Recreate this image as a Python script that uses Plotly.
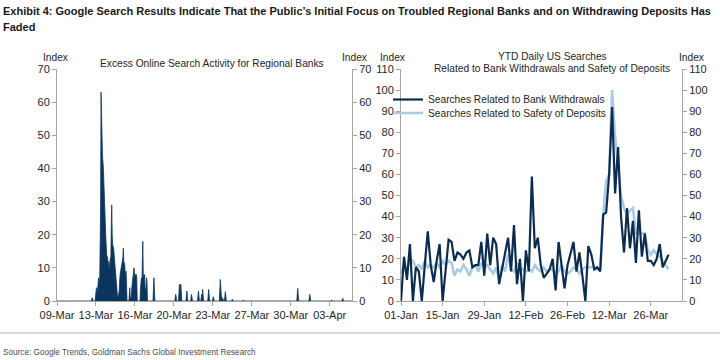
import plotly.graph_objects as go
import pandas as pd

# ---------------- Left panel: excess online search activity (hourly spikes) ----------------
excess_times = [
    "2023-03-09 12:00", "2023-03-12 14:00", "2023-03-12 16:00", "2023-03-12 18:00",
    "2023-03-12 22:00", "2023-03-13 00:00", "2023-03-13 01:00", "2023-03-13 02:00",
    "2023-03-13 03:00", "2023-03-13 05:00", "2023-03-13 06:00", "2023-03-13 08:00",
    "2023-03-13 10:00", "2023-03-13 11:00", "2023-03-13 12:00", "2023-03-13 14:00",
    "2023-03-13 16:00", "2023-03-13 17:00", "2023-03-13 19:00", "2023-03-13 21:00",
    "2023-03-13 23:00", "2023-03-14 01:00", "2023-03-14 03:00", "2023-03-14 04:00",
    "2023-03-14 06:00", "2023-03-14 07:00", "2023-03-14 08:00", "2023-03-14 09:00",
    "2023-03-14 10:00", "2023-03-14 11:00", "2023-03-14 12:00", "2023-03-14 14:00",
    "2023-03-14 15:00", "2023-03-14 17:00", "2023-03-14 18:00", "2023-03-14 20:00",
    "2023-03-14 22:00", "2023-03-15 00:00", "2023-03-15 02:00", "2023-03-15 04:00",
    "2023-03-15 06:00", "2023-03-15 08:00", "2023-03-15 10:00", "2023-03-15 11:00",
    "2023-03-15 12:00", "2023-03-15 14:00", "2023-03-15 15:00", "2023-03-15 17:00",
    "2023-03-15 18:00", "2023-03-15 19:00", "2023-03-15 23:00", "2023-03-16 00:00",
    "2023-03-16 01:00", "2023-03-16 02:00", "2023-03-16 04:00", "2023-03-16 06:00",
    "2023-03-16 08:00", "2023-03-16 10:00", "2023-03-16 12:00", "2023-03-16 13:00",
    "2023-03-16 15:00", "2023-03-16 16:00", "2023-03-16 17:00", "2023-03-16 23:00",
    "2023-03-17 00:00", "2023-03-17 02:00", "2023-03-17 03:00", "2023-03-17 05:00",
    "2023-03-17 06:00", "2023-03-17 08:00", "2023-03-17 09:00", "2023-03-17 10:00",
    "2023-03-17 12:00", "2023-03-17 13:00", "2023-03-17 14:00", "2023-03-17 15:00",
    "2023-03-18 03:00", "2023-03-18 05:00", "2023-03-18 07:00",
    "2023-03-20 02:00", "2023-03-20 04:00", "2023-03-20 06:00",
    "2023-03-20 10:00", "2023-03-20 12:00", "2023-03-20 13:00", "2023-03-20 14:00",
    "2023-03-20 15:00", "2023-03-20 17:00",
    "2023-03-21 02:00", "2023-03-21 04:00", "2023-03-21 06:00",
    "2023-03-21 12:00", "2023-03-21 14:00", "2023-03-21 16:00",
    "2023-03-22 03:00", "2023-03-22 05:00", "2023-03-22 07:00",
    "2023-03-22 10:00", "2023-03-22 12:00", "2023-03-22 13:00", "2023-03-22 14:00",
    "2023-03-22 16:00",
    "2023-03-23 01:00", "2023-03-23 03:00", "2023-03-23 05:00",
    "2023-03-23 11:00", "2023-03-23 13:00", "2023-03-23 15:00",
    "2023-03-24 02:00", "2023-03-24 04:00", "2023-03-24 06:00",
    "2023-03-24 07:00", "2023-03-24 09:00", "2023-03-24 11:00",
    "2023-03-24 13:00", "2023-03-24 15:00", "2023-03-24 17:00",
    "2023-03-25 04:00", "2023-03-25 06:00", "2023-03-25 08:00",
    "2023-03-26 04:00", "2023-03-26 06:00", "2023-03-26 08:00",
    "2023-03-31 01:00", "2023-03-31 03:00", "2023-03-31 05:00",
    "2023-04-01 03:00", "2023-04-01 05:00", "2023-04-01 07:00",
    "2023-04-03 02:00", "2023-04-03 04:00", "2023-04-03 06:00",
    "2023-04-04 02:00", "2023-04-04 04:00", "2023-04-04 06:00",
    "2023-04-05 00:00",
]
excess_values = [
    0, 0, 1, 0,
    0, 2, 4, 3,
    2, 6, 7, 5,
    28, 63, 50, 44,
    40, 34, 28, 20,
    14, 13, 10, 12,
    9, 13, 12, 22,
    29, 20, 17, 16,
    14, 10, 7, 3,
    2, 1, 3, 8,
    10, 11, 13, 16,
    12, 11, 8, 9,
    2, 0, 0, 3,
    4, 1, 1, 5,
    7, 10, 7, 8,
    8, 7, 0, 0,
    4, 7, 5, 18,
    8, 7, 8, 3,
    4, 7, 6, 0,
    0, 7, 0,
    0, 2, 0,
    0, 5, 5, 4,
    5, 0,
    0, 3, 0,
    0, 2, 0,
    0, 3, 0,
    0, 2, 0, 3.5,
    0,
    0, 3.5, 0,
    0, 1.3, 0,
    0, 6.5, 0,
    0, 1, 0,
    0, 2.8, 0,
    0, 0.5, 0,
    0, 0.3, 0,
    0, 3.8, 0,
    0, 2, 0,
    0, 0.3, 0,
    0, 0.8, 0,
    0,
]
left_tick_vals = ["2023-03-09 12:00", "2023-03-13 00:00", "2023-03-16 12:00", "2023-03-20 00:00",
                  "2023-03-23 12:00", "2023-03-27 00:00", "2023-03-30 12:00", "2023-04-03 00:00"]
left_tick_text = ["09-Mar", "13-Mar", "16-Mar", "20-Mar", "23-Mar", "27-Mar", "30-Mar", "03-Apr"]

# ---------------- Right panel: YTD daily searches ----------------
ytd_start = "2023-01-01"
withdrawals = [
    0, 21, 10, 27, 0, 16, 14, 0, 17, 33,
    17, 9, 19, 27, 0, 16, 29, 28, 19, 23,
    22, 20, 23, 24, 16, 17, 17, 28, 12, 32,
    17, 30, 27, 8, 16, 22, 30, 14, 36, 8,
    20, 0, 24, 14, 59, 25, 30, 17, 11, 13,
    15, 20, 5, 28, 18, 6, 17, 22, 28, 14,
    23, 12, 0, 26, 22, 15, 16, 14, 41, 42,
    60, 92, 51, 73, 40, 23, 44, 25, 38, 18,
    43, 21, 32, 19, 19, 17, 20, 27, 16, 19,
    22,
]
safety = [
    13, 17, 15, 20, 19, 16, 17, 15, 19, 16,
    17, 16, 18, 16, 19, 17, 19, 18, 12, 15,
    14, 17, 15, 12, 16, 17, 14, 18, 16, 17,
    15, 13, 16, 10, 17, 14, 22, 15, 14, 18,
    16, 15, 14, 15, 14, 17, 15, 14, 16, 14,
    15, 15, 13, 14, 17, 14, 13, 14, 16, 15,
    13, 15, 16, 16, 16, 16, 15, 16, 41, 57,
    60, 100, 78, 64, 50, 44, 41, 43, 44, 32,
    32, 32, 32, 24, 22, 24, 22, 21, 19, 17,
    15,
]
right_tick_vals = ["2023-01-01", "2023-01-15", "2023-01-29", "2023-02-12",
                   "2023-02-26", "2023-03-12", "2023-03-26"]
right_tick_text = ["01-Jan", "15-Jan", "29-Jan", "12-Feb", "26-Feb", "12-Mar", "26-Mar"]
ytd_dates = pd.date_range(ytd_start, periods=len(withdrawals), freq="D")

NAVY = "#0c355e"
DARK = "#0b2c50"
LIGHT = "#a9cbe4"
AXIS = "#a6a6a6"
TXT = "#262626"
FONT = "Liberation Sans, Arial, sans-serif"

fig = go.Figure()
fig.add_trace(go.Scatter(x=excess_times, y=excess_values, mode="lines", fill="tozeroy",
                         fillcolor=NAVY, line=dict(color=NAVY, width=0.8),
                         xaxis="x", yaxis="y", showlegend=False, hoverinfo="skip"))
# same series bound to the right-hand axis (invisible) so that axis is drawn
fig.add_trace(go.Scatter(x=excess_times, y=excess_values, mode="lines", opacity=0,
                         xaxis="x", yaxis="y2", showlegend=False, hoverinfo="skip"))
fig.add_trace(go.Scatter(x=ytd_dates, y=safety, mode="lines", name="Searches Related to Safety of Deposits",
                         line=dict(color=LIGHT, width=2.6), xaxis="x2", yaxis="y3", legend="legend2"))
fig.add_trace(go.Scatter(x=ytd_dates, y=withdrawals, mode="lines", name="Searches Related to Bank Withdrawals",
                         line=dict(color=DARK, width=2.2), xaxis="x2", yaxis="y3", legend="legend"))
fig.add_trace(go.Scatter(x=ytd_dates, y=safety, mode="lines", opacity=0,
                         xaxis="x2", yaxis="y4", showlegend=False, hoverinfo="skip"))

ydom = [59 / 360, 291 / 360]
tickfont = dict(family=FONT, size=11, color=TXT)
common_y = dict(showgrid=False, zeroline=False, showline=True, linecolor=AXIS, linewidth=1,
                ticks="outside", ticklen=4, tickcolor=AXIS, tickfont=tickfont, dtick=10,
                automargin=False, fixedrange=True)
common_x = dict(showgrid=False, zeroline=False, showline=True, linecolor=AXIS, linewidth=1,
                ticks="outside", ticklen=4, tickcolor=AXIS, tickfont=tickfont,
                automargin=False, fixedrange=True)

fig.update_layout(
    width=720, height=360,
    margin=dict(l=0, r=0, t=0, b=0, autoexpand=False),
    paper_bgcolor="white", plot_bgcolor="white",
    font=dict(family=FONT, color=TXT),
    xaxis=dict(domain=[57 / 720, 352 / 720], anchor="y", type="date",
               range=["2023-03-09 12:00", "2023-04-05 00:00"],
               tickmode="array", tickvals=left_tick_vals, ticktext=left_tick_text, **common_x),
    yaxis=dict(domain=ydom, anchor="x", range=[0, 70], **common_y),
    yaxis2=dict(overlaying="y", anchor="x", side="right", range=[0, 70], **common_y),
    xaxis2=dict(domain=[401 / 720, 682 / 720], anchor="y3", type="date",
                range=["2023-01-01", "2023-04-05 12:00"],
                tickmode="array", tickvals=right_tick_vals, ticktext=right_tick_text, **common_x),
    yaxis3=dict(domain=ydom, anchor="x2", range=[0, 110], **common_y),
    yaxis4=dict(overlaying="y3", anchor="x2", side="right", range=[0, 110], **common_y),
    legend=dict(x=388 / 720, y=1 - 85 / 360, xanchor="left", yanchor="top",
                bgcolor="rgba(0,0,0,0)", font=dict(family=FONT, size=10.2, color=TXT)),
    legend2=dict(x=388 / 720, y=1 - 98.5 / 360, xanchor="left", yanchor="top",
                 bgcolor="rgba(0,0,0,0)", font=dict(family=FONT, size=10.2, color=TXT)),
    showlegend=True,
)

def txt(x, y, s, size=10.2, anchor="center", family=FONT, color=TXT):
    fig.add_annotation(x=x / 720, y=1 - y / 360, xref="paper", yref="paper", text=s,
                       showarrow=False, xanchor=anchor, yanchor="middle",
                       font=dict(family=family, size=size, color=color))

title = ("<b>Exhibit 4: Google Search Results Indicate That the Public\u2019s Initial Focus on Troubled "
         "Regional Banks and on Withdrawing Deposits Has</b>")
txt(1, 11, title, size=11.0, anchor="left", color="#1a1a1a")
txt(1, 27, "<b>Faded</b>", size=11.0, anchor="left", color="#1a1a1a")

txt(55, 57.5, "Index")
txt(354, 57.5, "Index")
txt(393, 57.5, "Index")
txt(691, 57.5, "Index")
txt(212, 63, "Excess Online Search Activity for Regional Banks")
txt(552, 56, "YTD Daily US Searches")
txt(552, 68, "Related to Bank Withdrawals and Safety of Deposits")

txt(1, 352, "Source: Google Trends, Goldman Sachs Global Investment Research", size=8.2,
    anchor="left", color="#4d4d4d")
fig.add_shape(type="line", xref="paper", yref="paper", x0=0, x1=1, y0=1 - 333 / 360, y1=1 - 333 / 360,
              line=dict(color="#b3b3b3", width=1))

fig.write_html("out.html", config=dict(displayModeBar=False),
               post_script="document.body.style.margin='0px';document.body.style.padding='0px';"
                           "document.body.style.overflow='hidden';")
